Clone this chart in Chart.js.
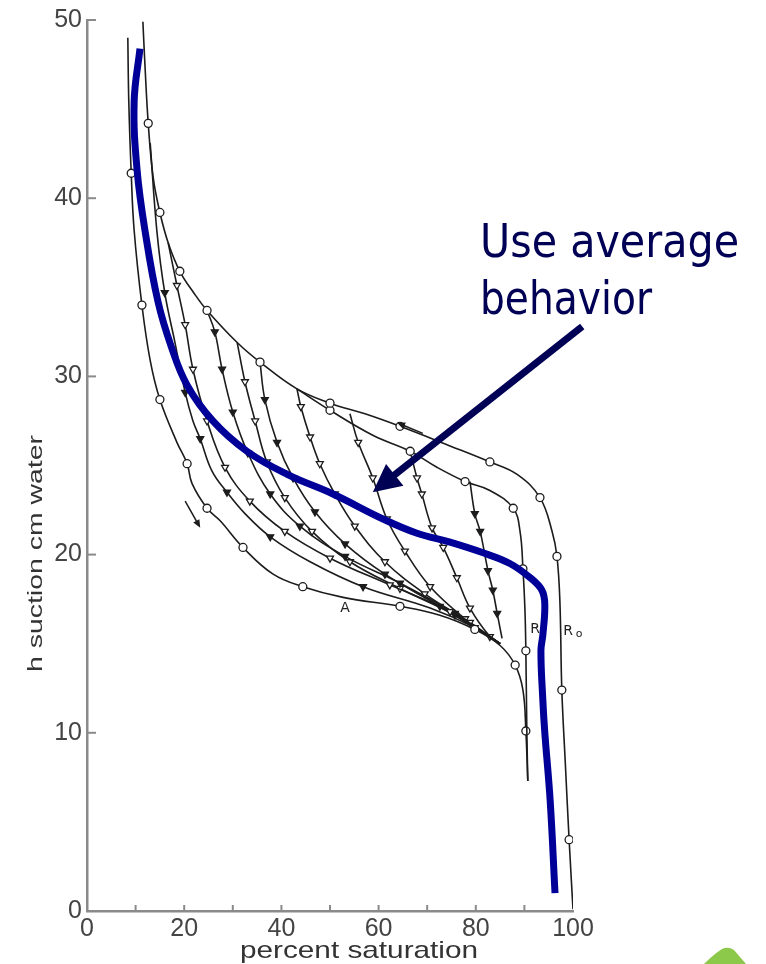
<!DOCTYPE html>
<html><head><meta charset="utf-8">
<script src="https://cdn.jsdelivr.net/npm/chart.js@4.4.1/dist/chart.umd.min.js"></script>
<style>html,body{margin:0;padding:0;background:#fff;}#wrap{width:766px;height:964px;position:relative;}</style>
</head><body><div id="wrap"><canvas id="c" width="766" height="964"></canvas></div>
<script>
// ---------- data (percent saturation, suction cm water) ----------
const avgSat     = [10.9,9.7,10.3,12.1,14.6,17.3,20.6,25.9,32.9,41.2,50.6,60.9,67.9,74.7,81.5,87.0,91.2,93.6,94.2,93.8,93.4,93.8,94.2,95.3,96.3];
const avgSuction = [48.4,45.4,41.6,37.9,34.2,31.7,29.5,27.5,25.8,24.5,23.4,22.0,21.2,20.7,20.1,19.5,18.7,18.0,17.2,15.5,14.6,11.8,10.0,6.2,1.0];

const r0Sat     = [11.5,11.9,12.6,13.6,15.0,16.7,19.1,22.2,24.7,30.9,35.6,43.2,50.0,57.2,64.4,74.7,82.9,88.5,93.2,95.7,96.7,97.3,97.7,98.4,99.2,100];
const r0Suction = [49.9,47.6,44.2,41.2,39.2,37.5,35.9,34.6,33.7,31.9,30.8,29.3,28.5,27.9,27.2,26.1,25.2,24.5,23.2,21.3,19.9,17.4,12.4,8.4,4.0,0.1];

const rSat     = [90.7,90.5,90.3,90.1,89.7,89.1,87.7,82.9,77.8,72.0,66.5,58.8,50.0,43.2];
const rSuction = [7.3,10.1,14.6,17.0,19.2,21.3,22.6,23.6,24.1,24.9,25.8,26.7,28.1,29.3];

const aSat     = [8.4,8.6,9.1,9.7,11.3,13.0,15.0,18.5,20.6,21.6,24.7,27.4,32.1,38.3,44.4,52.7,64.4,72.6,79.8,85.0,88.1,89.7,90.3,90.7];
const aSuction = [49.0,45.4,41.4,38.2,34.0,30.9,28.7,26.3,25.1,24.0,22.6,21.9,20.4,18.9,18.2,17.6,17.1,16.6,15.8,14.9,13.8,12.4,10.1,7.3];

const s1Sat = [13.0,14.4,16.0,18.1,20.2,21.8,23.3,25.7,28.8,32.5,37.7,45.9,56.8,70.6,79.8,85.0];
const s1Suc = [43.1,38.1,34.7,31.9,29.1,27.5,26.5,24.7,23.5,22.3,21.0,19.6,18.2,17.0,15.9,15.0];
const s2Sat = [16.7,18.5,20.2,21.8,24.7,28.4,33.5,40.7,50.0,62.3,74.7,85.0];
const s2Suc = [37.5,35.1,32.9,30.4,27.5,24.9,23.0,21.3,19.8,18.3,16.8,15.0];
const s3Sat = [24.7,26.3,27.8,30.0,33.1,37.7,43.8,53.1,64.4,75.7,85.0];
const s3Suc = [33.7,32.5,30.4,28.0,25.7,23.4,21.6,19.9,18.4,16.7,15.0];
const s4Sat = [30.9,32.5,34.6,37.0,40.7,46.3,54.1,64.4,75.7,85.0];
const s4Suc = [31.9,29.7,27.5,25.2,23.2,21.3,19.6,18.1,16.6,15.0];
const s5Sat = [35.6,36.6,39.1,42.4,46.9,53.1,61.3,72.6,85.0];
const s5Suc = [30.8,28.7,26.3,24.3,22.4,20.6,18.9,17.1,15.0];
const s6Sat = [43.2,44.0,45.9,47.9,51.0,55.1,61.3,69.5,78.8,85.0];
const s6Suc = [29.3,28.3,26.6,25.1,23.4,21.6,19.6,17.8,16.2,15.0];
const s7Sat = [54.1,55.8,58.8,61.7,65.4,70.6,77.8,85.0];
const s7Suc = [27.9,26.3,24.3,22.0,20.2,18.2,16.4,15.0];
const s8Sat = [66.5,67.9,68.9,71.0,73.3,76.1,78.8,82.9,85.0];
const s8Suc = [25.8,24.3,23.4,21.5,20.4,18.7,17.0,15.4,15.0];
const s9Sat = [78.8,79.8,80.9,82.5,83.5,84.4,85.4];
const s9Suc = [24.1,22.3,21.3,19.1,18.0,16.7,15.3];

// small direction arrows of the original figure [fromSat, fromSuc, toSat, toSuc]
const dirArrow1 = [69.1,26.8,63.8,27.4];
const dirArrow2 = [20.2,23.0,23.3,21.5];
// curve labels
const curveLabels = ['A','R','R'];
const curveLabelSat = [53.1,92.2,99.0];
const curveLabelSuc = [17.0,15.8,15.7];
// annotation
const noteLines = ['Use average','behavior'];
const noteArrow = [101.9,32.8,58.8,23.5];

const xTickStep = 20, yTickStep = 10;
const xTitle = 'percent saturation';
const yTitle = 'h suction cm water';

// ---------- build ----------
const pts = (xs, ys) => xs.map((v, i) => ({x: v, y: ys[i]}));
const inner = (every) => (c) => {
  const n = c.dataset.data.length;
  if (c.dataIndex === 0 || c.dataIndex === n - 1) return 0;
  return (c.dataIndex % every === 0) ? 4 : 0;
};
function curve(xs, ys, style, fill, every, rot) {
  return {
    data: pts(xs, ys), showLine: true, tension: 0.4,
    borderColor: '#1c1c1c', borderWidth: 1.6, order: 1,
    pointStyle: style, pointRotation: rot || 0,
    pointRadius: inner(every), pointBackgroundColor: fill,
    pointBorderColor: '#1c1c1c', pointBorderWidth: 1.3
  };
}

const datasets = [
  {data: pts(avgSat, avgSuction), showLine: true, tension: 0.4, borderColor: '#000099',
   borderWidth: 7, pointRadius: 0, order: 0, borderCapStyle: 'butt'},
  curve(r0Sat, r0Suction, 'circle', '#fff', 2),
  curve(rSat, rSuction, 'circle', '#fff', 2),
  curve(aSat, aSuction, 'circle', '#fff', 2),
  curve(s1Sat, s1Suc, 'triangle', '#1c1c1c', 2, 180),
  curve(s2Sat, s2Suc, 'triangle', '#fff', 1, 180),
  curve(s3Sat, s3Suc, 'triangle', '#1c1c1c', 1, 180),
  curve(s4Sat, s4Suc, 'triangle', '#fff', 1, 180),
  curve(s5Sat, s5Suc, 'triangle', '#1c1c1c', 1, 180),
  curve(s6Sat, s6Suc, 'triangle', '#fff', 1, 180),
  curve(s7Sat, s7Suc, 'triangle', '#fff', 1, 180),
  curve(s8Sat, s8Suc, 'triangle', '#fff', 1, 180),
  curve(s9Sat, s9Suc, 'triangle', '#1c1c1c', 1, 180)
];

function arrow(ctx, x0, y0, x1, y1, w, head, half, color) {
  const dx = x1 - x0, dy = y1 - y0, L = Math.hypot(dx, dy);
  const ux = dx / L, uy = dy / L;
  const bx = x1 - ux * head, by = y1 - uy * head;
  ctx.save();
  ctx.strokeStyle = color; ctx.fillStyle = color; ctx.lineWidth = w;
  ctx.beginPath(); ctx.moveTo(x0, y0); ctx.lineTo(bx + ux * 2, by + uy * 2); ctx.stroke();
  ctx.beginPath(); ctx.moveTo(x1, y1);
  ctx.lineTo(bx - uy * half, by + ux * half);
  ctx.lineTo(bx + uy * half, by - ux * half);
  ctx.closePath(); ctx.fill();
  ctx.restore();
}
function fitText(ctx, text, x, y, width, font, color) {
  ctx.save();
  ctx.font = font; ctx.fillStyle = color;
  ctx.textAlign = 'left'; ctx.textBaseline = 'alphabetic';
  const w = ctx.measureText(text).width;
  ctx.translate(x, y); ctx.scale(width / w, 1);
  ctx.fillText(text, 0, 0);
  ctx.restore();
}

const deco = {
  id: 'deco',
  afterDraw(chart) {
    const {ctx, chartArea: ca} = chart;
    const xs = chart.scales.x, ys = chart.scales.y;
    const px = v => xs.getPixelForValue(v), py = v => ys.getPixelForValue(v);
    ctx.save();
    // inside ticks
    ctx.strokeStyle = '#8a8a8a'; ctx.lineWidth = 2;
    for (let v = 10; v < 100; v += 10) {
      ctx.beginPath(); ctx.moveTo(px(v), ca.bottom); ctx.lineTo(px(v), ca.bottom - 6); ctx.stroke();
    }
    for (let v = 10; v <= 50; v += 10) {
      ctx.beginPath(); ctx.moveTo(ca.left, py(v)); ctx.lineTo(ca.left + 9, py(v)); ctx.stroke();
    }
    // axis titles
    fitText(ctx, xTitle, 240, 958, 238, '24px "Liberation Sans", Arial, sans-serif', '#333');
    ctx.save();
    ctx.translate(42, 672); ctx.rotate(-Math.PI / 2);
    fitText(ctx, yTitle, 0, 0, 237, '20px "Liberation Sans", Arial, sans-serif', '#333');
    ctx.restore();
    // small direction arrows
    arrow(ctx, px(dirArrow1[0]), py(dirArrow1[1]), px(dirArrow1[2]), py(dirArrow1[3]), 1.5, 8, 3.5, '#1c1c1c');
    arrow(ctx, px(dirArrow2[0]), py(dirArrow2[1]), px(dirArrow2[2]), py(dirArrow2[3]), 1.5, 8, 3.5, '#1c1c1c');
    // curve labels
    ctx.save();
    ctx.fillStyle = '#222'; ctx.font = '14px "DejaVu Sans", sans-serif';
    ctx.textAlign = 'center'; ctx.textBaseline = 'middle';
    curveLabels.forEach((t, i) => ctx.fillText(t, px(curveLabelSat[i]), py(curveLabelSuc[i])));
    ctx.font = '11px "DejaVu Sans", sans-serif';
    ctx.fillText('o', px(curveLabelSat[2]) + 11, py(curveLabelSuc[2]) + 3);
    ctx.restore();
    // annotation
    arrow(ctx, px(noteArrow[0]), py(noteArrow[1]), px(noteArrow[2]), py(noteArrow[3]), 7, 28, 14, '#000055');
    fitText(ctx, noteLines[0], 480, 257, 259, '47px "DejaVu Sans", Verdana, sans-serif', '#000055');
    fitText(ctx, noteLines[1], 480, 314, 172, '47px "DejaVu Sans", Verdana, sans-serif', '#000055');
    // green logo fragment
    ctx.fillStyle = '#8cc84a';
    ctx.beginPath();
    ctx.moveTo(704, 964); ctx.quadraticCurveTo(714, 954, 722, 949);
    ctx.quadraticCurveTo(728, 946, 734, 950); ctx.lineTo(746, 964); ctx.closePath(); ctx.fill();
    ctx.restore();
  }
};

const tickFont = {family: '"Liberation Sans", Arial, sans-serif', size: 25};
new Chart(document.getElementById('c'), {
  type: 'scatter',
  data: {datasets},
  options: {
    responsive: false, animation: false, events: [],
    layout: {padding: {top: 17, right: 193, left: 0, bottom: 0}},
    plugins: {legend: {display: false}, tooltip: {enabled: false}},
    scales: {
      x: {type: 'linear', min: 0, max: 100,
          ticks: {stepSize: xTickStep, font: tickFont, color: '#444', padding: 3, maxRotation: 0},
          grid: {display: false, drawTicks: false},
          border: {display: true, color: '#8a8a8a', width: 2.5},
          afterFit(s) { s.height = 53; }},
      y: {type: 'linear', min: 0, max: 50,
          ticks: {stepSize: yTickStep, font: tickFont, color: '#444', padding: 5},
          grid: {display: false, drawTicks: false},
          border: {display: true, color: '#8a8a8a', width: 2.5},
          afterFit(s) { s.width = 87; }}
    }
  },
  plugins: [deco]
});
</script></body></html>
